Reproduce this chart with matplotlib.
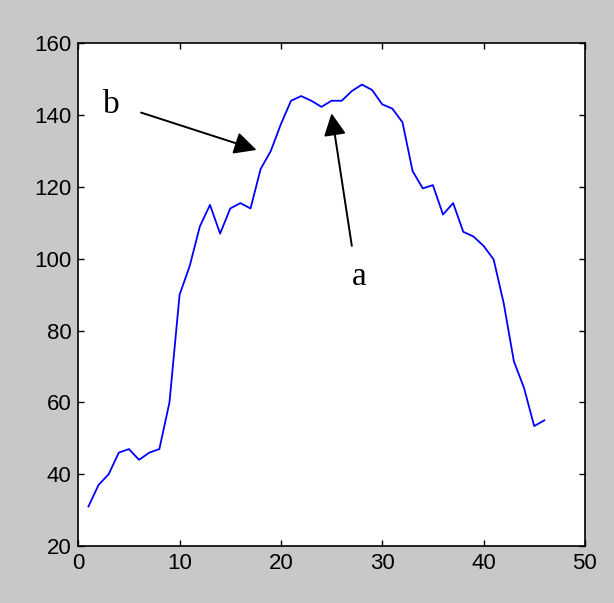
import matplotlib
matplotlib.use("Agg")
from matplotlib import pyplot as plt

# profile values, sample index 1..46
xs = list(range(1, 47))
ys = [31, 37, 40, 46, 47, 44, 46, 47, 60, 90,
      98, 109, 115, 107, 114, 115.5, 114, 125, 130, 137.5,
      144, 145.3, 144, 142.3, 144, 144, 146.7, 148.5, 147, 143,
      141.8, 138, 124.4, 119.6, 120.5, 112.3, 115.5, 107.5, 106.2, 103.6,
      99.8, 87.5, 71.4, 64, 53.4, 55]

xticks = [0, 10, 20, 30, 40, 50]
yticks = [20, 40, 60, 80, 100, 120, 140, 160]

# annotation labels: (text, text pos, arrow tail, arrow tip)
notes = [("b", (3.3, 143), (6.2, 140.7), (17.6, 130.3)),
         ("a", (27.7, 95), (27.0, 103.6), (25.0, 140.5))]

fig = plt.figure(figsize=(6.14, 6.03), dpi=100)
fig.patch.set_facecolor("#c8c8c8")
ax = fig.add_axes([0.1275, 0.0945, 0.825, 0.8337])
ax.set_facecolor("white")

ax.plot(xs, ys, color="#0000ff", lw=1.3)

ax.set_xlim(0, 50)
ax.set_ylim(20, 160)
ax.set_xticks(xticks)
ax.set_yticks(yticks)
ax.tick_params(direction="in", length=4, width=1, top=True, right=True,
               labelsize=16, pad=5, colors="black")
for lab in ax.get_xticklabels() + ax.get_yticklabels():
    lab.set_family("Liberation Sans")
for sp in ax.spines.values():
    sp.set_linewidth(1.2)
    sp.set_color("black")

for txt, tpos, tail, tip in notes:
    ax.text(tpos[0], tpos[1], txt, fontsize=24, family="Liberation Serif",
            ha="center", va="center")
    ax.annotate("", xy=tip, xytext=tail,
                arrowprops=dict(arrowstyle="-|>", mutation_scale=34,
                                lw=1.4, color="black", shrinkA=0, shrinkB=0))

plt.savefig("out.png", dpi=100, facecolor=fig.get_facecolor())
